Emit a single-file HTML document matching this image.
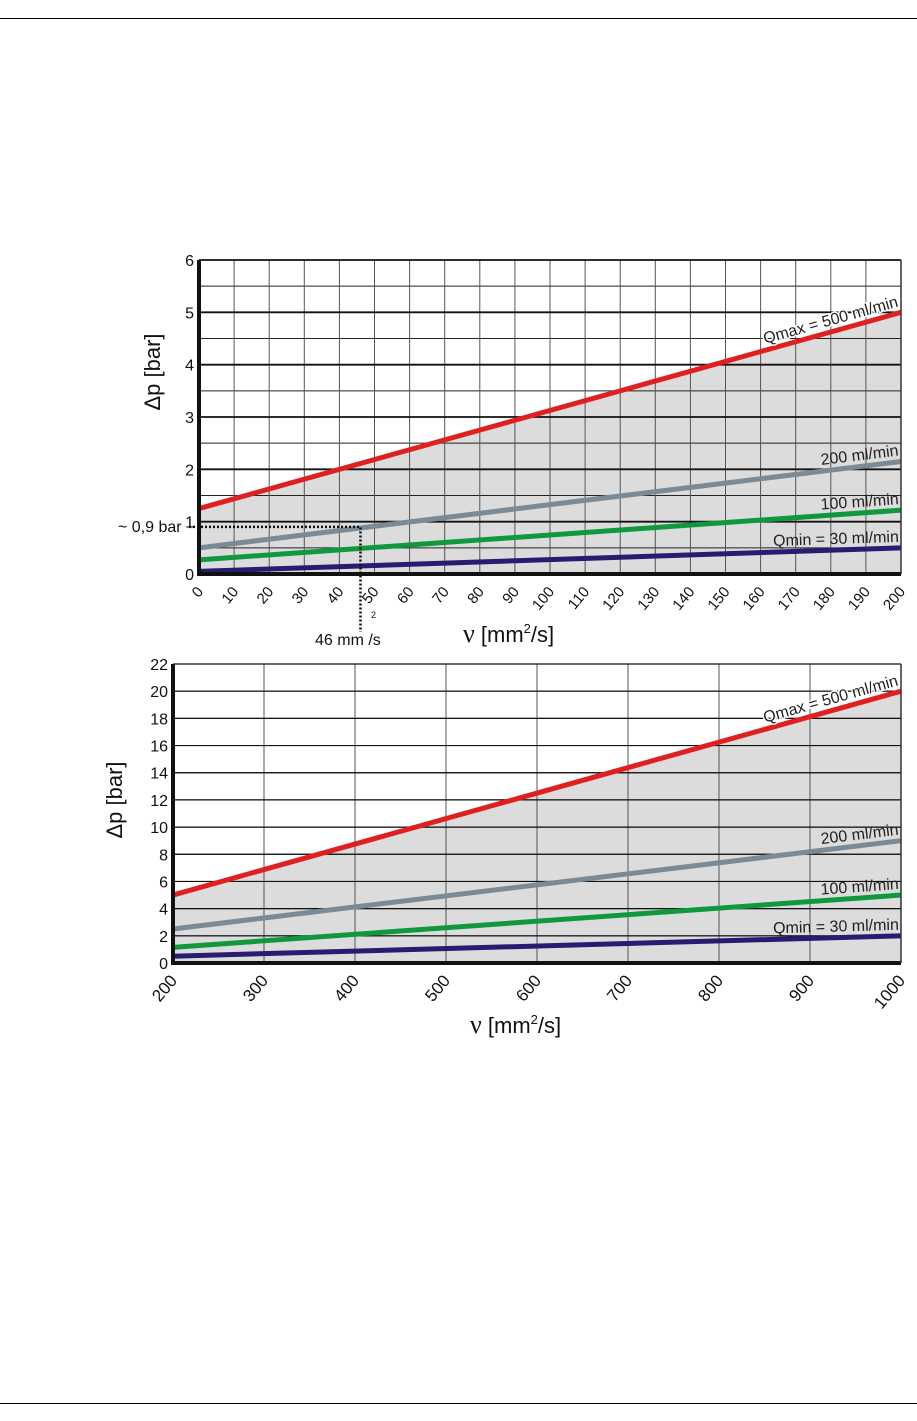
<!DOCTYPE html>
<html><head><meta charset="utf-8">
<style>
html,body{margin:0;padding:0;background:#fff;}
svg{display:block;font-family:"Liberation Sans",Arial,sans-serif;}
</style></head>
<body>
<svg id="c" width="917" height="1421" viewBox="0 0 917 1421">
<line x1="0" y1="18.5" x2="917" y2="18.5" stroke="#000" stroke-width="1"/>
<line x1="0" y1="1403.5" x2="917" y2="1403.5" stroke="#000" stroke-width="1"/>
</svg>
<script>
// Top chart data (nu 0..200 mm2/s)
const topXTicks=[0,10,20,30,40,50,60,70,80,90,100,110,120,130,140,150,160,170,180,190,200];
const topYTicks=[0,1,2,3,4,5,6];
const topX=[0,200];
const topRed=[1.25,5.0];
const topGray=[0.5,2.15];
const topGreen=[0.27,1.22];
const topNavy=[0.05,0.5];
// Bottom chart data (nu 200..1000 mm2/s)
const botXTicks=[200,300,400,500,600,700,800,900,1000];
const botYTicks=[0,2,4,6,8,10,12,14,16,18,20,22];
const botX=[200,1000];
const botRed=[5,20];
const botGray=[2.5,9];
const botGreen=[1.15,5];
const botNavy=[0.5,2];
const seriesNames=["Qmax = 500 ml/min","200 ml/min","100 ml/min","Qmin = 30 ml/min"];

const NS="http://www.w3.org/2000/svg";
const svgRoot=document.getElementById('c');
function mk(tag,attrs,parent){const e=document.createElementNS(NS,tag);for(const k in attrs)e.setAttribute(k,attrs[k]);(parent||svgRoot).appendChild(e);return e;}

function chart(cfg){
  const g=mk('g',{});
  
  
  const sx=v=>cfg.x0+(v-cfg.xmin)/(cfg.xmax-cfg.xmin)*(cfg.x1-cfg.x0);
  const sy=v=>cfg.y0-(v-cfg.ymin)/(cfg.ymax-cfg.ymin)*(cfg.y0-cfg.y1);
  const sh=mk('polygon',{points:`${sx(cfg.xs[0])},${sy(0)} ${sx(cfg.xs[0])},${sy(cfg.red[0])} ${sx(cfg.xs[1])},${sy(cfg.red[1])} ${sx(cfg.xs[1])},${sy(0)}`,fill:'#dcdcdc'},g);
  
  
  for(let v=cfg.ymin;v<=cfg.ymax+1e-9;v+=cfg.hminor){
    const l=mk('line',{x1:cfg.x0,x2:cfg.x1,y1:sy(v),y2:sy(v),stroke:'#222','stroke-width':1},g);
    
    
  }
  cfg.xticks.forEach(v=>{
    const l=mk('line',{x1:sx(v),x2:sx(v),y1:cfg.y1,y2:cfg.y0,stroke:'#555','stroke-width':1},g);
    
    
  });
  cfg.yticks.forEach(v=>{
    const l=mk('line',{x1:cfg.x0,x2:cfg.x1,y1:sy(v),y2:sy(v),stroke:'#111','stroke-width':cfg.majorW},g);
    
    
    const t=mk('text',{x:cfg.x0-5,y:sy(v)+6,'text-anchor':'end','font-size':16,fill:'#111'},g);
    t.textContent=v;
    
    
  });
  cfg.xticks.forEach(v=>{
    const x=sx(v),y=cfg.y0+8;
    const t=mk('text',{x:x+5,y:y+10,'text-anchor':'end','font-size':cfg.xfs,fill:'#111',transform:`rotate(-50 ${x+5} ${y+10})`},g);
    t.textContent=v;
    
    
  });
  const cols=['#e02020','#7a8a96','#10983c','#261c70'];
  const data=[cfg.red,cfg.gray,cfg.green,cfg.navy];
  const sn=['series-qmax-500','series-200','series-100','series-qmin-30'];
  data.forEach((d,i)=>{
    const l=mk('line',{x1:sx(cfg.xs[0]),y1:sy(d[0]),x2:sx(cfg.xs[1]),y2:sy(d[1]),stroke:cols[i],'stroke-width':5},g);
    
    
    const ang=Math.atan2(sy(d[1])-sy(d[0]),sx(cfg.xs[1])-sx(cfg.xs[0]))*180/Math.PI;
    const lx=cfg.x1-2, ly=sy(d[1])-6;
    const t=mk('text',{x:lx,y:ly,'text-anchor':'end','font-size':16,fill:'#222',transform:`rotate(${ang} ${lx} ${ly})`},g);
    if(i===0){t.setAttribute('stroke','#fff');t.setAttribute('stroke-width','3');t.setAttribute('paint-order','stroke');}
    t.textContent=seriesNames[i];
    
    
  });
  const ax=mk('path',{d:`M${cfg.x0},${cfg.y1} V${cfg.y0} H${cfg.x1}`,fill:'none',stroke:'#111','stroke-width':4},g);
  
  
  const fr=mk('line',{x1:cfg.x1,x2:cfg.x1,y1:cfg.y1,y2:cfg.y0,stroke:'#333','stroke-width':1.5},g);
  
  
  const yt=mk('text',{x:cfg.ytx,y:cfg.yty,'text-anchor':'middle','font-size':22,fill:'#111',transform:`rotate(-90 ${cfg.ytx} ${cfg.yty})`},g);
  yt.textContent='Δp  [bar]';
  
  
  const xt=mk('text',{x:cfg.xtx,y:cfg.xty,'font-size':22,fill:'#111'},g);
  const t1=mk('tspan',{'font-family':'Liberation Serif,serif','font-size':26},xt); t1.textContent='ν';
  const t2=mk('tspan',{},xt); t2.textContent=' [mm';
  const t3=mk('tspan',{'font-size':13,dy:-9},xt); t3.textContent='2';
  const t4=mk('tspan',{dy:9},xt); t4.textContent='/s]';
  
  
  return {sx,sy,g};
}

const topChart=chart({name:'top-chart',x0:199,x1:901,y0:574,y1:260,xmin:0,xmax:200,ymin:0,ymax:6,hminor:0.5,majorW:1.8,
  xticks:topXTicks,yticks:topYTicks,xs:topX,red:topRed,gray:topGray,green:topGreen,navy:topNavy,xfs:15,
  ytx:160,yty:372,xtx:463,xty:642});
const botChart=chart({name:'bottom-chart',x0:173,x1:901,y0:963,y1:664,xmin:200,xmax:1000,ymin:0,ymax:22,hminor:2,majorW:1.2,
  xticks:botXTicks,yticks:botYTicks,xs:botX,red:botRed,gray:botGray,green:botGreen,navy:botNavy,xfs:17,
  ytx:122,yty:800,xtx:470,xty:1033});

const rv=46, rp=0.9;
const ann=mk('path',{d:`M${topChart.sx(0)-10},${topChart.sy(rp)} H${topChart.sx(rv)} V${topChart.sy(0)+58}`,fill:'none',stroke:'#111','stroke-width':2.5,'stroke-dasharray':'2,2'},topChart.g);


const a1=mk('text',{x:118,y:532,'font-size':16,fill:'#111'},topChart.g);
a1.textContent='~ 0,9 bar';


const a2=mk('text',{x:315,y:645,'font-size':16,fill:'#111'},topChart.g);
a2.textContent='46 mm /s';


const a3=mk('text',{x:371,y:618,'font-size':9,fill:'#111'},topChart.g);
a3.textContent='2';


</script>
</body></html>
